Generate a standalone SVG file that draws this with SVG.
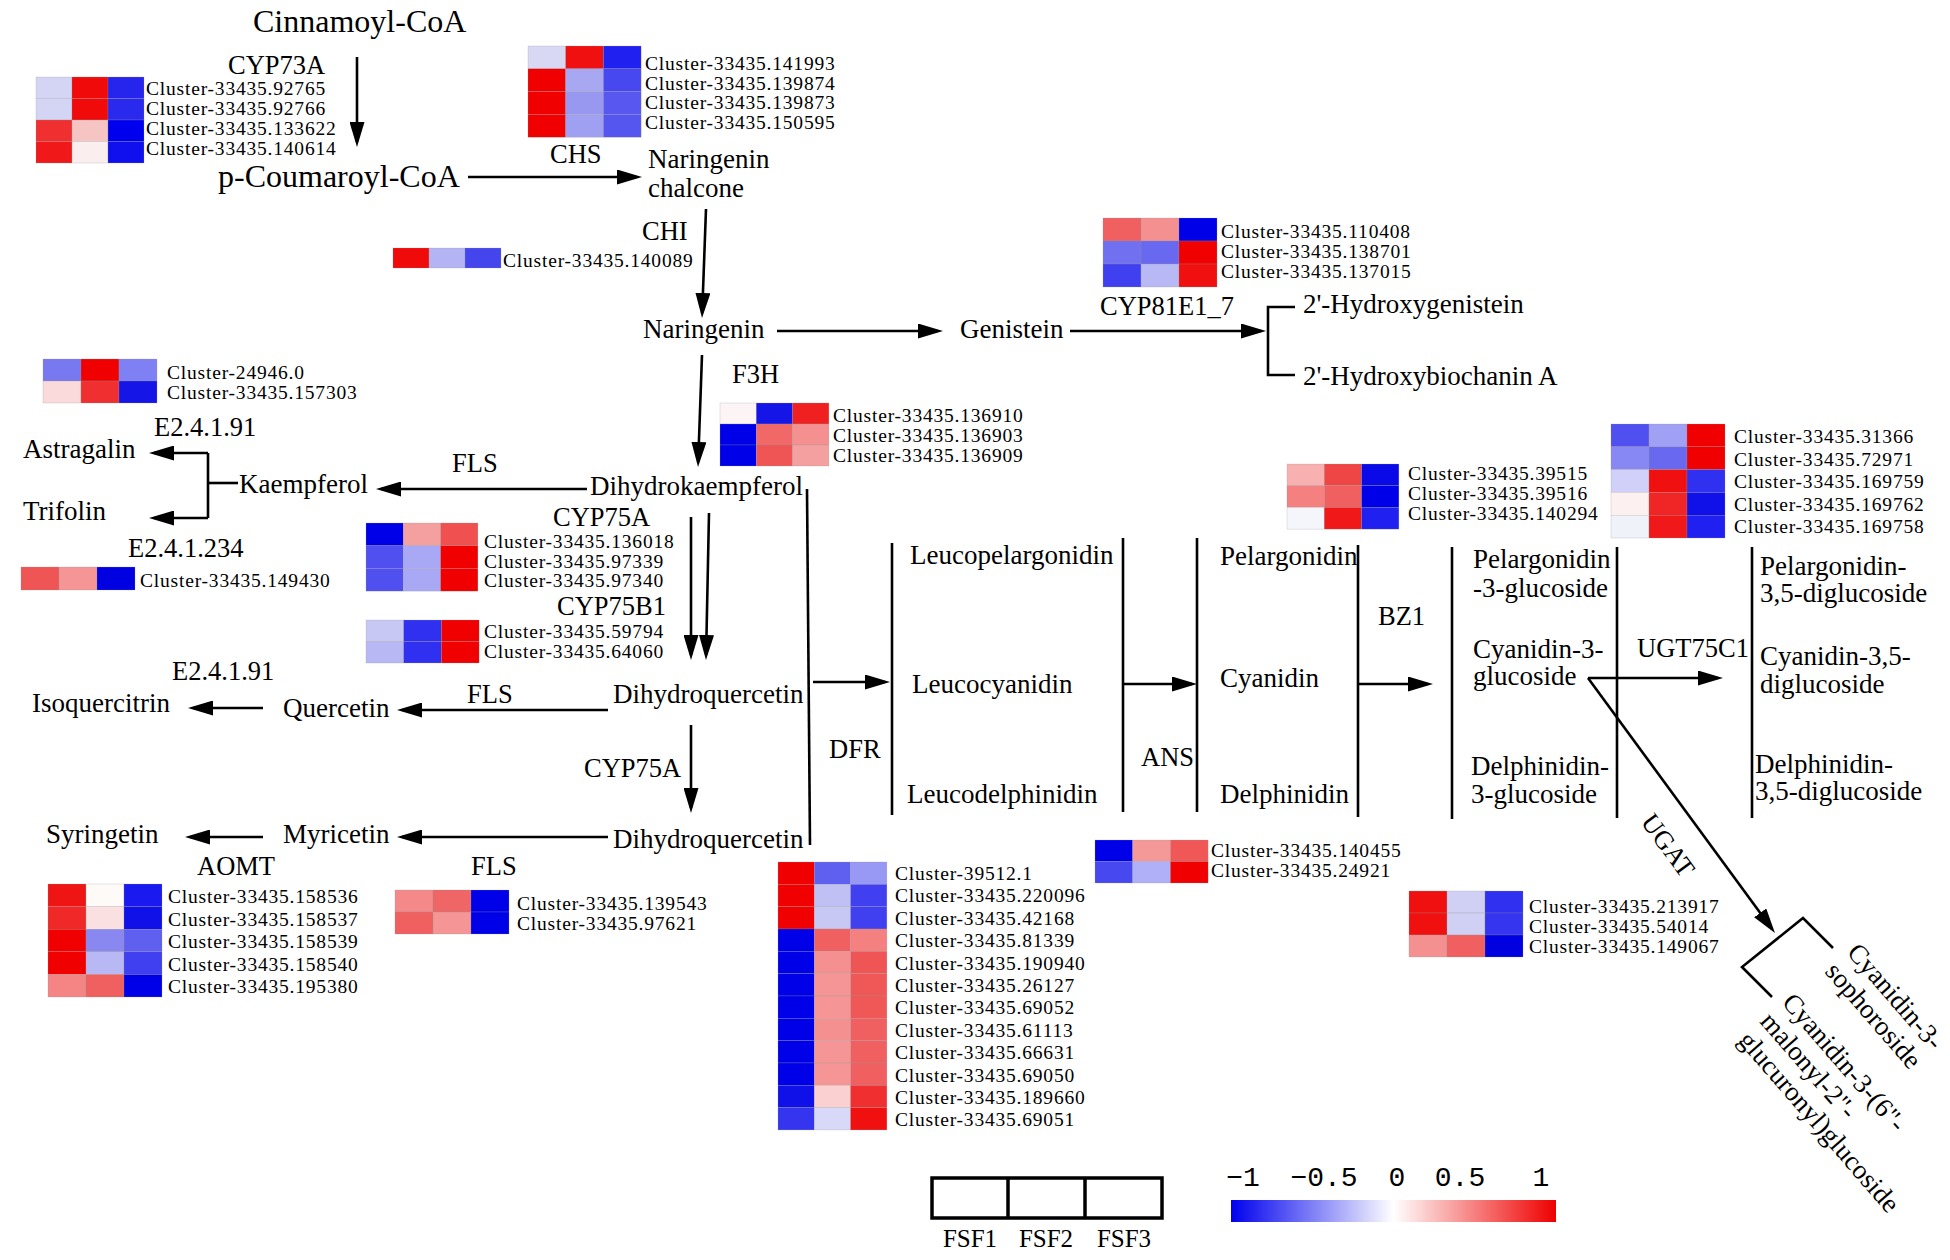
<svg xmlns="http://www.w3.org/2000/svg" width="1950" height="1260" viewBox="0 0 1950 1260">
<style>
text{font-family:"Liberation Serif","Times New Roman",serif;fill:#000}
.big{font-size:32px}
.c{font-size:27px}
.e{font-size:26.5px}
.l{font-size:19.5px;letter-spacing:0.8px}
.ln{stroke:#000;stroke-width:2.6;fill:none}
.ar{stroke:#000;stroke-width:2.6;fill:none;marker-end:url(#ah)}
.hm rect{stroke:#9a9a9a;stroke-width:0.4;stroke-opacity:0.6}
.cb{font-family:"Liberation Mono","Courier New",monospace;font-size:28px}
</style>
<defs>
<marker id="ah" markerUnits="userSpaceOnUse" markerWidth="25" markerHeight="15" viewBox="0 0 25 15" refX="20" refY="7.5" orient="auto">
<path d="M0,0 L25,7.5 L0,15 Z" fill="#000"/>
</marker>
<linearGradient id="grad" x1="0" y1="0" x2="1" y2="0">
<stop offset="0" stop-color="#0000ee"/>
<stop offset="0.5" stop-color="#ffffff"/>
<stop offset="1" stop-color="#ee0000"/>
</linearGradient>
</defs>
<rect width="1950" height="1260" fill="#fff"/>

<g id="connectors">
<line class="ar" x1="357" y1="57" x2="357" y2="142"/>
<line class="ar" x1="468" y1="177" x2="637" y2="177"/>
<line class="ar" x1="706" y1="209" x2="702.2" y2="313"/>
<line class="ar" x1="777" y1="331" x2="938" y2="331"/>
<line class="ar" x1="1070" y1="331" x2="1261" y2="331"/>
<polyline class="ln" points="1295,307 1268,307 1268,375 1295,375"/>
<line class="ar" x1="702" y1="355" x2="698.2" y2="462"/>
<line class="ar" x1="587" y1="489" x2="381" y2="489"/>
<polyline class="ln" points="238,483 208,483"/>
<line class="ln" x1="208" y1="453" x2="208" y2="518"/>
<line class="ar" x1="208" y1="453" x2="154" y2="453"/>
<line class="ar" x1="208" y1="518" x2="154" y2="518"/>
<line class="ar" x1="691" y1="517" x2="691" y2="655"/>
<line class="ar" x1="709" y1="513" x2="706.1" y2="655"/>
<line class="ar" x1="608" y1="710" x2="402" y2="710"/>
<line class="ar" x1="263" y1="708" x2="193" y2="708"/>
<line class="ar" x1="691" y1="725" x2="691" y2="808"/>
<line class="ar" x1="608" y1="837" x2="402" y2="837"/>
<line class="ar" x1="263" y1="837" x2="190" y2="837"/>
<line class="ln" x1="807" y1="489" x2="810" y2="845"/>
<line class="ar" x1="813" y1="682" x2="885" y2="682"/>
<line class="ln" x1="892" y1="543" x2="892" y2="815"/>
<line class="ln" x1="1123" y1="538" x2="1123" y2="812"/>
<line class="ar" x1="1123" y1="684" x2="1192" y2="684"/>
<line class="ln" x1="1197" y1="538" x2="1197" y2="812"/>
<line class="ln" x1="1358" y1="545" x2="1358" y2="817"/>
<line class="ar" x1="1358" y1="684" x2="1428" y2="684"/>
<line class="ln" x1="1452" y1="547" x2="1452" y2="819"/>
<line class="ln" x1="1617" y1="547" x2="1617" y2="818"/>
<line class="ar" x1="1588" y1="678" x2="1718" y2="678"/>
<line class="ln" x1="1752" y1="547" x2="1752" y2="818"/>
<line class="ar" x1="1588" y1="678" x2="1772" y2="929"/>
<polyline class="ln" points="1772,997 1742,967 1803,918 1833,948"/>
</g>

<g id="n-cinnamoyl"><text class="big" x="253" y="32">Cinnamoyl-CoA</text></g>
<g id="n-coumaroyl"><text class="big" x="218" y="187">p-Coumaroyl-CoA</text></g>
<g id="n-chalcone"><text class="c" x="648" y="168">Naringenin</text><text class="c" x="648" y="197">chalcone</text></g>
<g id="n-naringenin"><text class="c" x="643" y="338">Naringenin</text></g>
<g id="n-genistein"><text class="c" x="960" y="338">Genistein</text></g>
<g id="n-hgen"><text class="c" x="1303" y="313">2'-Hydroxygenistein</text></g>
<g id="n-hbio"><text class="c" x="1303" y="385">2'-Hydroxybiochanin A</text></g>
<g id="n-dhk"><text class="c" x="590" y="495">Dihydrokaempferol</text></g>
<g id="n-kaempferol"><text class="c" x="239" y="493">Kaempferol</text></g>
<g id="n-astragalin"><text class="c" x="23" y="458">Astragalin</text></g>
<g id="n-trifolin"><text class="c" x="23" y="520">Trifolin</text></g>
<g id="n-dhq1"><text class="c" x="613" y="703">Dihydroquercetin</text></g>
<g id="n-quercetin"><text class="c" x="283" y="717">Quercetin</text></g>
<g id="n-isoquercitrin"><text class="c" x="32" y="712">Isoquercitrin</text></g>
<g id="n-dhq2"><text class="c" x="613" y="848">Dihydroquercetin</text></g>
<g id="n-myricetin"><text class="c" x="283" y="843">Myricetin</text></g>
<g id="n-syringetin"><text class="c" x="46" y="843">Syringetin</text></g>
<g id="n-leuco"><text class="c" x="910" y="564">Leucopelargonidin</text><text class="c" x="912" y="693">Leucocyanidin</text><text class="c" x="907" y="803">Leucodelphinidin</text></g>
<g id="n-antho"><text class="c" x="1220" y="565">Pelargonidin</text><text class="c" x="1220" y="687">Cyanidin</text><text class="c" x="1220" y="803">Delphinidin</text></g>
<g id="n-3glc">
<text class="c" x="1473" y="568">Pelargonidin</text><text class="c" x="1473" y="597">-3-glucoside</text>
<text class="c" x="1473" y="658">Cyanidin-3-</text><text class="c" x="1473" y="685">glucoside</text>
<text class="c" x="1471" y="775">Delphinidin-</text><text class="c" x="1471" y="803">3-glucoside</text>
</g>
<g id="n-35dg">
<text class="c" x="1760" y="575">Pelargonidin-</text><text class="c" x="1760" y="602">3,5-diglucoside</text>
<text class="c" x="1760" y="665">Cyanidin-3,5-</text><text class="c" x="1760" y="693">diglucoside</text>
<text class="c" x="1755" y="773">Delphinidin-</text><text class="c" x="1755" y="800">3,5-diglucoside</text>
</g>
<g id="n-sophoroside" transform="translate(1846,953) rotate(49)"><text class="c" x="0" y="0">Cyanidin-3-</text><text class="c" x="0" y="29">sophoroside</text></g>
<g id="n-malonyl" transform="translate(1781,1003) rotate(49)"><text class="c" x="0" y="0">Cyanidin-3-(6"-</text><text class="c" x="0" y="29">malonyl-2"-</text><text class="c" x="0" y="58">glucuronyl)glucoside</text></g>

<g id="enzymes">
<text class="e" x="228" y="74">CYP73A</text>
<text class="e" x="550" y="163">CHS</text>
<text class="e" x="642" y="240">CHI</text>
<text class="e" x="732" y="383">F3H</text>
<text class="e" x="1100" y="315">CYP81E1_7</text>
<text class="e" x="154" y="436">E2.4.1.91</text>
<text class="e" x="452" y="472">FLS</text>
<text class="e" x="128" y="557">E2.4.1.234</text>
<text class="e" x="553" y="526">CYP75A</text>
<text class="e" x="557" y="615">CYP75B1</text>
<text class="e" x="172" y="680">E2.4.1.91</text>
<text class="e" x="467" y="703">FLS</text>
<text class="e" x="829" y="758">DFR</text>
<text class="e" x="584" y="777">CYP75A</text>
<text class="e" x="197" y="875">AOMT</text>
<text class="e" x="471" y="875">FLS</text>
<text class="e" x="1141" y="766">ANS</text>
<text class="e" x="1378" y="625">BZ1</text>
<text class="e" x="1637" y="657">UGT75C1</text>
<text class="e" transform="translate(1640,822) rotate(53.7)">UGAT</text>
</g>

<g id="hm-cyp73a" class="hm" transform="translate(36,77)">
<rect x="0" y="0" width="36" height="21.5" fill="#d4d4f5"/><rect x="36" y="0" width="36" height="21.5" fill="#f00a0a"/><rect x="72" y="0" width="36" height="21.5" fill="#2525ee"/>
<rect x="0" y="21.5" width="36" height="21.5" fill="#d4d4f5"/><rect x="36" y="21.5" width="36" height="21.5" fill="#f00a0a"/><rect x="72" y="21.5" width="36" height="21.5" fill="#2a2aee"/>
<rect x="0" y="43" width="36" height="21.5" fill="#f03030"/><rect x="36" y="43" width="36" height="21.5" fill="#f7c4c4"/><rect x="72" y="43" width="36" height="21.5" fill="#0000ee"/>
<rect x="0" y="64.5" width="36" height="21.5" fill="#f01818"/><rect x="36" y="64.5" width="36" height="21.5" fill="#fbeeee"/><rect x="72" y="64.5" width="36" height="21.5" fill="#1010ee"/>
<text class="l" x="110" y="17.5">Cluster-33435.92765</text><text class="l" x="110" y="38">Cluster-33435.92766</text><text class="l" x="110" y="58">Cluster-33435.133622</text><text class="l" x="110" y="77.5">Cluster-33435.140614</text>
</g>

<g id="hm-chs" class="hm" transform="translate(528,46)">
<rect x="0" y="0" width="37.7" height="22.8" fill="#d8d8f5"/><rect x="37.7" y="0" width="37.7" height="22.8" fill="#f01010"/><rect x="75.4" y="0" width="37.7" height="22.8" fill="#2020f0"/>
<rect x="0" y="22.8" width="37.7" height="22.8" fill="#f00000"/><rect x="37.7" y="22.8" width="37.7" height="22.8" fill="#a8a8f2"/><rect x="75.4" y="22.8" width="37.7" height="22.8" fill="#4848f0"/>
<rect x="0" y="45.6" width="37.7" height="22.8" fill="#f00000"/><rect x="37.7" y="45.6" width="37.7" height="22.8" fill="#9898f0"/><rect x="75.4" y="45.6" width="37.7" height="22.8" fill="#5858f0"/>
<rect x="0" y="68.4" width="37.7" height="22.8" fill="#f00000"/><rect x="37.7" y="68.4" width="37.7" height="22.8" fill="#a0a0f2"/><rect x="75.4" y="68.4" width="37.7" height="22.8" fill="#5555f0"/>
<text class="l" x="117" y="24">Cluster-33435.141993</text><text class="l" x="117" y="43.5">Cluster-33435.139874</text><text class="l" x="117" y="63">Cluster-33435.139873</text><text class="l" x="117" y="82.5">Cluster-33435.150595</text>
</g>

<g id="hm-chi" class="hm" transform="translate(393,248)">
<rect x="0" y="0" width="36" height="20" fill="#f00a0a"/><rect x="36" y="0" width="36" height="20" fill="#b4b4f5"/><rect x="72" y="0" width="36" height="20" fill="#4545ee"/>
<text class="l" x="110" y="19">Cluster-33435.140089</text>
</g>

<g id="hm-cyp81" class="hm" transform="translate(1103,218)">
<rect x="0" y="0" width="38" height="23" fill="#f06060"/><rect x="38" y="0" width="38" height="23" fill="#f59090"/><rect x="76" y="0" width="38" height="23" fill="#0000e8"/>
<rect x="0" y="23" width="38" height="23" fill="#7070f0"/><rect x="38" y="23" width="38" height="23" fill="#6868f0"/><rect x="76" y="23" width="38" height="23" fill="#f00000"/>
<rect x="0" y="46" width="38" height="23" fill="#4040f0"/><rect x="38" y="46" width="38" height="23" fill="#b8b8f5"/><rect x="76" y="46" width="38" height="23" fill="#f01010"/>
<text class="l" x="118" y="20">Cluster-33435.110408</text><text class="l" x="118" y="40">Cluster-33435.138701</text><text class="l" x="118" y="60">Cluster-33435.137015</text>
</g>

<g id="hm-e2491a" class="hm" transform="translate(43,359)">
<rect x="0" y="0" width="38" height="22" fill="#7878f0"/><rect x="38" y="0" width="38" height="22" fill="#f00000"/><rect x="76" y="0" width="38" height="22" fill="#8080f5"/>
<rect x="0" y="22" width="38" height="22" fill="#fadada"/><rect x="38" y="22" width="38" height="22" fill="#f03030"/><rect x="76" y="22" width="38" height="22" fill="#1515e8"/>
<text class="l" x="124" y="20">Cluster-24946.0</text><text class="l" x="124" y="40">Cluster-33435.157303</text>
</g>

<g id="hm-e241234" class="hm" transform="translate(21,567)">
<rect x="0" y="0" width="38" height="23" fill="#f05555"/><rect x="38" y="0" width="38" height="23" fill="#f59595"/><rect x="76" y="0" width="38" height="23" fill="#0000e0"/>
<text class="l" x="119" y="20">Cluster-33435.149430</text>
</g>

<g id="hm-cyp75a" class="hm" transform="translate(366,523)">
<rect x="0" y="0" width="37.3" height="22.7" fill="#0000e8"/><rect x="37.3" y="0" width="37.3" height="22.7" fill="#f5a0a0"/><rect x="74.6" y="0" width="37.3" height="22.7" fill="#f05050"/>
<rect x="0" y="22.7" width="37.3" height="22.7" fill="#5050f0"/><rect x="37.3" y="22.7" width="37.3" height="22.7" fill="#a8a8f5"/><rect x="74.6" y="22.7" width="37.3" height="22.7" fill="#f00000"/>
<rect x="0" y="45.4" width="37.3" height="22.7" fill="#5050f0"/><rect x="37.3" y="45.4" width="37.3" height="22.7" fill="#a8a8f5"/><rect x="74.6" y="45.4" width="37.3" height="22.7" fill="#f00000"/>
<text class="l" x="118" y="25">Cluster-33435.136018</text><text class="l" x="118" y="44.5">Cluster-33435.97339</text><text class="l" x="118" y="64">Cluster-33435.97340</text>
</g>

<g id="hm-cyp75b1" class="hm" transform="translate(366,620)">
<rect x="0" y="0" width="37.7" height="21.5" fill="#c8c8f5"/><rect x="37.7" y="0" width="37.7" height="21.5" fill="#3030f0"/><rect x="75.4" y="0" width="37.7" height="21.5" fill="#f00000"/>
<rect x="0" y="21.5" width="37.7" height="21.5" fill="#b8b8f5"/><rect x="37.7" y="21.5" width="37.7" height="21.5" fill="#3030f0"/><rect x="75.4" y="21.5" width="37.7" height="21.5" fill="#f00000"/>
<text class="l" x="118" y="18">Cluster-33435.59794</text><text class="l" x="118" y="38">Cluster-33435.64060</text>
</g>

<g id="hm-f3h" class="hm" transform="translate(720,403)">
<rect x="0" y="0" width="36.3" height="21" fill="#fdf5f5"/><rect x="36.3" y="0" width="36.3" height="21" fill="#1515e8"/><rect x="72.6" y="0" width="36.3" height="21" fill="#f02020"/>
<rect x="0" y="21" width="36.3" height="21" fill="#0000e8"/><rect x="36.3" y="21" width="36.3" height="21" fill="#f06868"/><rect x="72.6" y="21" width="36.3" height="21" fill="#f59090"/>
<rect x="0" y="42" width="36.3" height="21" fill="#0000e8"/><rect x="36.3" y="42" width="36.3" height="21" fill="#f05555"/><rect x="72.6" y="42" width="36.3" height="21" fill="#f5a0a0"/>
<text class="l" x="113" y="19">Cluster-33435.136910</text><text class="l" x="113" y="39">Cluster-33435.136903</text><text class="l" x="113" y="59">Cluster-33435.136909</text>
</g>

<g id="hm-aomt" class="hm" transform="translate(48,884)">
<rect x="0" y="0" width="38" height="22.6" fill="#f01515"/><rect x="38" y="0" width="38" height="22.6" fill="#fefaf8"/><rect x="76" y="0" width="38" height="22.6" fill="#1a1af0"/>
<rect x="0" y="22.6" width="38" height="22.6" fill="#f02828"/><rect x="38" y="22.6" width="38" height="22.6" fill="#fae0e0"/><rect x="76" y="22.6" width="38" height="22.6" fill="#1010e8"/>
<rect x="0" y="45.2" width="38" height="22.6" fill="#f00000"/><rect x="38" y="45.2" width="38" height="22.6" fill="#8888f0"/><rect x="76" y="45.2" width="38" height="22.6" fill="#6060f0"/>
<rect x="0" y="67.8" width="38" height="22.6" fill="#f00000"/><rect x="38" y="67.8" width="38" height="22.6" fill="#b8b8f5"/><rect x="76" y="67.8" width="38" height="22.6" fill="#4040f0"/>
<rect x="0" y="90.4" width="38" height="22.6" fill="#f58585"/><rect x="38" y="90.4" width="38" height="22.6" fill="#f06060"/><rect x="76" y="90.4" width="38" height="22.6" fill="#0000e8"/>
<text class="l" x="120" y="19">Cluster-33435.158536</text><text class="l" x="120" y="41.5">Cluster-33435.158537</text><text class="l" x="120" y="64">Cluster-33435.158539</text><text class="l" x="120" y="86.5">Cluster-33435.158540</text><text class="l" x="120" y="109">Cluster-33435.195380</text>
</g>

<g id="hm-fls" class="hm" transform="translate(395,890)">
<rect x="0" y="0" width="38" height="22" fill="#f58888"/><rect x="38" y="0" width="38" height="22" fill="#f06565"/><rect x="76" y="0" width="38" height="22" fill="#0000e8"/>
<rect x="0" y="22" width="38" height="22" fill="#f06060"/><rect x="38" y="22" width="38" height="22" fill="#f59595"/><rect x="76" y="22" width="38" height="22" fill="#0000e8"/>
<text class="l" x="122" y="19.5">Cluster-33435.139543</text><text class="l" x="122" y="39.5">Cluster-33435.97621</text>
</g>

<g id="hm-dfr" class="hm" transform="translate(778,862)">
<rect x="0" y="0" width="36.3" height="22.33" fill="#f00000"/><rect x="36.3" y="0" width="36.3" height="22.33" fill="#6060f0"/><rect x="72.6" y="0" width="36.3" height="22.33" fill="#9898f5"/>
<rect x="0" y="22.33" width="36.3" height="22.33" fill="#f00000"/><rect x="36.3" y="22.33" width="36.3" height="22.33" fill="#c0c0f5"/><rect x="72.6" y="22.33" width="36.3" height="22.33" fill="#4040f0"/>
<rect x="0" y="44.66" width="36.3" height="22.33" fill="#f00000"/><rect x="36.3" y="44.66" width="36.3" height="22.33" fill="#c8c8f5"/><rect x="72.6" y="44.66" width="36.3" height="22.33" fill="#4040f0"/>
<rect x="0" y="66.99" width="36.3" height="22.33" fill="#0000e8"/><rect x="36.3" y="66.99" width="36.3" height="22.33" fill="#f06060"/><rect x="72.6" y="66.99" width="36.3" height="22.33" fill="#f58080"/>
<rect x="0" y="89.32" width="36.3" height="22.33" fill="#0000e8"/><rect x="36.3" y="89.32" width="36.3" height="22.33" fill="#f59090"/><rect x="72.6" y="89.32" width="36.3" height="22.33" fill="#f05555"/>
<rect x="0" y="111.65" width="36.3" height="22.33" fill="#0000e8"/><rect x="36.3" y="111.65" width="36.3" height="22.33" fill="#f59595"/><rect x="72.6" y="111.65" width="36.3" height="22.33" fill="#f05858"/>
<rect x="0" y="133.98" width="36.3" height="22.33" fill="#0000e8"/><rect x="36.3" y="133.98" width="36.3" height="22.33" fill="#f59595"/><rect x="72.6" y="133.98" width="36.3" height="22.33" fill="#f05858"/>
<rect x="0" y="156.31" width="36.3" height="22.33" fill="#0000e8"/><rect x="36.3" y="156.31" width="36.3" height="22.33" fill="#f59090"/><rect x="72.6" y="156.31" width="36.3" height="22.33" fill="#f06060"/>
<rect x="0" y="178.64" width="36.3" height="22.33" fill="#0000e8"/><rect x="36.3" y="178.64" width="36.3" height="22.33" fill="#f59595"/><rect x="72.6" y="178.64" width="36.3" height="22.33" fill="#f06060"/>
<rect x="0" y="200.97" width="36.3" height="22.33" fill="#0000e8"/><rect x="36.3" y="200.97" width="36.3" height="22.33" fill="#f59595"/><rect x="72.6" y="200.97" width="36.3" height="22.33" fill="#f06060"/>
<rect x="0" y="223.3" width="36.3" height="22.33" fill="#1010e8"/><rect x="36.3" y="223.3" width="36.3" height="22.33" fill="#fad0d0"/><rect x="72.6" y="223.3" width="36.3" height="22.33" fill="#f03030"/>
<rect x="0" y="245.63" width="36.3" height="22.33" fill="#3535f0"/><rect x="36.3" y="245.63" width="36.3" height="22.33" fill="#d8d8f8"/><rect x="72.6" y="245.63" width="36.3" height="22.33" fill="#f01010"/>
<text class="l" x="117" y="18">Cluster-39512.1</text>
<text class="l" x="117" y="40.4">Cluster-33435.220096</text>
<text class="l" x="117" y="62.8">Cluster-33435.42168</text>
<text class="l" x="117" y="85.2">Cluster-33435.81339</text>
<text class="l" x="117" y="107.6">Cluster-33435.190940</text>
<text class="l" x="117" y="130">Cluster-33435.26127</text>
<text class="l" x="117" y="152.4">Cluster-33435.69052</text>
<text class="l" x="117" y="174.8">Cluster-33435.61113</text>
<text class="l" x="117" y="197.2">Cluster-33435.66631</text>
<text class="l" x="117" y="219.6">Cluster-33435.69050</text>
<text class="l" x="117" y="242">Cluster-33435.189660</text>
<text class="l" x="117" y="264.4">Cluster-33435.69051</text>
</g>

<g id="hm-ans" class="hm" transform="translate(1095,840)">
<rect x="0" y="0" width="37.7" height="21.5" fill="#0000e8"/><rect x="37.7" y="0" width="37.7" height="21.5" fill="#f59898"/><rect x="75.4" y="0" width="37.7" height="21.5" fill="#f05858"/>
<rect x="0" y="21.5" width="37.7" height="21.5" fill="#4848f0"/><rect x="37.7" y="21.5" width="37.7" height="21.5" fill="#b0b0f8"/><rect x="75.4" y="21.5" width="37.7" height="21.5" fill="#f00000"/>
<text class="l" x="116" y="17">Cluster-33435.140455</text><text class="l" x="116" y="37">Cluster-33435.24921</text>
</g>

<g id="hm-bz1" class="hm" transform="translate(1287,464)">
<rect x="0" y="0" width="37.3" height="21.7" fill="#f8b0b0"/><rect x="37.3" y="0" width="37.3" height="21.7" fill="#f04545"/><rect x="74.6" y="0" width="37.3" height="21.7" fill="#0a0ae8"/>
<rect x="0" y="21.7" width="37.3" height="21.7" fill="#f58080"/><rect x="37.3" y="21.7" width="37.3" height="21.7" fill="#f06060"/><rect x="74.6" y="21.7" width="37.3" height="21.7" fill="#0000e8"/>
<rect x="0" y="43.4" width="37.3" height="21.7" fill="#f5f5fc"/><rect x="37.3" y="43.4" width="37.3" height="21.7" fill="#f01818"/><rect x="74.6" y="43.4" width="37.3" height="21.7" fill="#2020f0"/>
<text class="l" x="121" y="16">Cluster-33435.39515</text><text class="l" x="121" y="36">Cluster-33435.39516</text><text class="l" x="121" y="56">Cluster-33435.140294</text>
</g>

<g id="hm-ugt75c1" class="hm" transform="translate(1611,424)">
<rect x="0" y="0" width="38" height="22.8" fill="#5050f0"/><rect x="38" y="0" width="38" height="22.8" fill="#a0a0f5"/><rect x="76" y="0" width="38" height="22.8" fill="#f00000"/>
<rect x="0" y="22.8" width="38" height="22.8" fill="#8888f5"/><rect x="38" y="22.8" width="38" height="22.8" fill="#6868f0"/><rect x="76" y="22.8" width="38" height="22.8" fill="#f00000"/>
<rect x="0" y="45.6" width="38" height="22.8" fill="#d0d0f8"/><rect x="38" y="45.6" width="38" height="22.8" fill="#f01010"/><rect x="76" y="45.6" width="38" height="22.8" fill="#3030f0"/>
<rect x="0" y="68.4" width="38" height="22.8" fill="#fdf0f0"/><rect x="38" y="68.4" width="38" height="22.8" fill="#f02525"/><rect x="76" y="68.4" width="38" height="22.8" fill="#1010e8"/>
<rect x="0" y="91.2" width="38" height="22.8" fill="#f0f2fa"/><rect x="38" y="91.2" width="38" height="22.8" fill="#f01818"/><rect x="76" y="91.2" width="38" height="22.8" fill="#2020f0"/>
<text class="l" x="123" y="19">Cluster-33435.31366</text><text class="l" x="123" y="41.5">Cluster-33435.72971</text><text class="l" x="123" y="64">Cluster-33435.169759</text><text class="l" x="123" y="86.5">Cluster-33435.169762</text><text class="l" x="123" y="109">Cluster-33435.169758</text>
</g>

<g id="hm-ugat" class="hm" transform="translate(1409,891)">
<rect x="0" y="0" width="38" height="22" fill="#f01010"/><rect x="38" y="0" width="38" height="22" fill="#d0d0f5"/><rect x="76" y="0" width="38" height="22" fill="#3030f0"/>
<rect x="0" y="22" width="38" height="22" fill="#f01010"/><rect x="38" y="22" width="38" height="22" fill="#d0d0f5"/><rect x="76" y="22" width="38" height="22" fill="#3535f0"/>
<rect x="0" y="44" width="38" height="22" fill="#f59090"/><rect x="38" y="44" width="38" height="22" fill="#f06060"/><rect x="76" y="44" width="38" height="22" fill="#0000e0"/>
<text class="l" x="120" y="22">Cluster-33435.213917</text><text class="l" x="120" y="42">Cluster-33435.54014</text><text class="l" x="120" y="62">Cluster-33435.149067</text>
</g>

<g id="legend-samples">
<rect x="932" y="1178" width="230" height="40" fill="none" stroke="#000" stroke-width="3.5"/>
<line x1="1008" y1="1178" x2="1008" y2="1218" stroke="#000" stroke-width="3.5"/>
<line x1="1085" y1="1178" x2="1085" y2="1218" stroke="#000" stroke-width="3.5"/>
<text class="e" x="970" y="1247" text-anchor="middle" style="font-size:25px">FSF1</text>
<text class="e" x="1046" y="1247" text-anchor="middle" style="font-size:25px">FSF2</text>
<text class="e" x="1124" y="1247" text-anchor="middle" style="font-size:25px">FSF3</text>
</g>

<g id="legend-scale">
<rect x="1231" y="1200" width="325" height="22" fill="url(#grad)"/>
<text class="cb" x="1243" y="1186" text-anchor="middle">−1</text>
<text class="cb" x="1324" y="1186" text-anchor="middle">−0.5</text>
<text class="cb" x="1397" y="1186" text-anchor="middle">0</text>
<text class="cb" x="1460" y="1186" text-anchor="middle">0.5</text>
<text class="cb" x="1541" y="1186" text-anchor="middle">1</text>
</g>
</svg>
